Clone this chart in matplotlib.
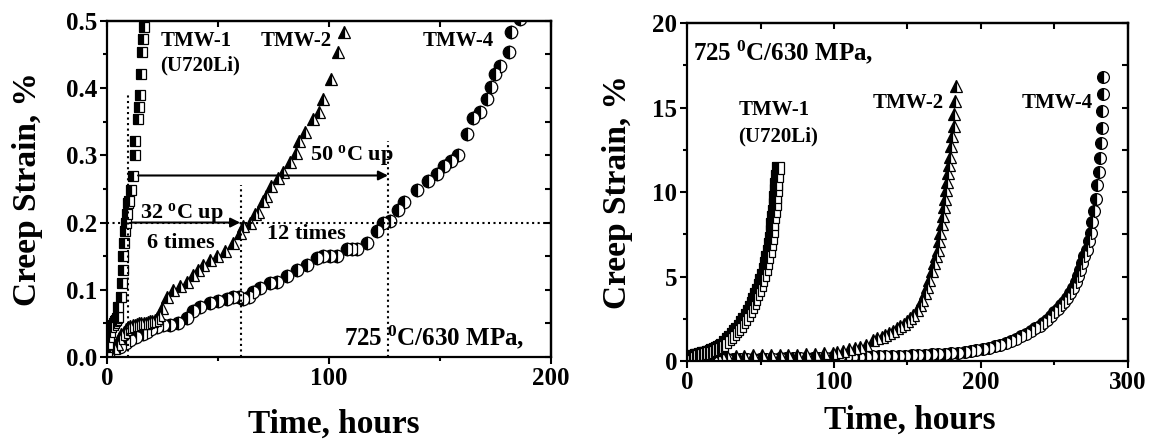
import matplotlib.pyplot as plt
from matplotlib.ticker import MultipleLocator, FormatStrFormatter, NullFormatter

# ---- left panel: creep strain (%) vs time (h), low strain range ----
tmw1_h = [0, 0.5, 1, 1.5, 2, 2.5, 3, 3.5, 4, 4.5, 5, 5.1, 6.2, 6.6, 7.1, 7.3, 7.8, 8.3, 8.6,
          9.0, 9.6, 9.9, 10.7, 11.9, 12.6, 12.8, 14.1, 14.6, 14.9, 15.2, 15.6, 16.4, 16.7]
tmw1_s = [0, 0.02, 0.03, 0.038, 0.045, 0.048, 0.05, 0.053, 0.055, 0.058, 0.06, 0.075, 0.09,
          0.11, 0.13, 0.15, 0.17, 0.187, 0.2, 0.212, 0.229, 0.232, 0.249, 0.269, 0.301,
          0.321, 0.354, 0.372, 0.389, 0.421, 0.454, 0.473, 0.491]

tmw2_h = [0, 1.4, 3, 4.4, 5.5, 6.5, 7.5, 8.5, 9.5, 10.5, 11.5, 12.5, 13.5, 14.5, 15.5, 16.5,
          17.5, 18.5, 19.5, 20.5, 21.5, 22.5, 23.5, 25, 26.9, 29.8, 32.8, 35.9, 38.9, 41.2,
          43.3, 46.4, 49.4, 53.2, 56.9, 59.9, 61.4, 64.4, 66.7, 68.0, 70.3, 71.5, 74.0, 77.0,
          79.4, 82.4, 85.0, 86.5, 89.2, 92.6, 95.6, 97.4, 101.0, 104.0, 107.0]
tmw2_s = [0, 0.006, 0.014, 0.02, 0.028, 0.034, 0.038, 0.041, 0.044, 0.046, 0.047, 0.048,
          0.049, 0.05, 0.05, 0.05, 0.051, 0.052, 0.053, 0.054, 0.055, 0.058, 0.063, 0.073,
          0.09, 0.1, 0.106, 0.112, 0.122, 0.13, 0.137, 0.145, 0.15, 0.157, 0.17, 0.185,
          0.195, 0.2, 0.212, 0.215, 0.232, 0.239, 0.254, 0.267, 0.275, 0.29, 0.304, 0.321,
          0.334, 0.354, 0.364, 0.384, 0.413, 0.454, 0.484]

tmw4_h = [0, 2.8, 5.9, 8.5, 10.4, 13, 16.3, 17.9, 20, 22.4, 25.4, 28.4, 32, 35.9, 38.9, 41.9,
          46.4, 50, 53.9, 56.9, 59.5, 61.4, 64, 66, 68.9, 73.4, 76.4, 80.9, 85.4, 89.9, 94.4,
          97.5, 100.5, 103.5, 108, 110.5, 112.5, 117, 121.5, 124.4, 127.5, 131, 134, 139.5,
          144.7, 148.5, 152, 155, 158, 162, 165, 168, 171, 173, 174.8, 177, 181, 182, 186]
tmw4_s = [0, 0.013, 0.015, 0.021, 0.025, 0.03, 0.035, 0.038, 0.042, 0.045, 0.048, 0.048,
          0.05, 0.058, 0.068, 0.075, 0.08, 0.084, 0.087, 0.089, 0.089, 0.087, 0.09, 0.097,
          0.102, 0.11, 0.112, 0.12, 0.13, 0.137, 0.147, 0.15, 0.15, 0.15, 0.16, 0.16, 0.16,
          0.17, 0.187, 0.2, 0.202, 0.219, 0.23, 0.249, 0.262, 0.272, 0.284, 0.291, 0.301,
          0.331, 0.356, 0.364, 0.384, 0.401, 0.421, 0.433, 0.453, 0.483, 0.503]

# time to reach 0.2 % and guide levels
t02 = [9.5, 60.5, 126.6]
guide_top = [0.392, 0.256, 0.321]
strain_ref = 0.2
arrow_32 = (11, 60)
arrow_50 = (14, 126.6)
arrow_50_level = 0.27

# ---- right panel: full creep curves ----
r1_h = [0, 1, 2, 3, 4, 5, 6, 7, 8, 9, 10, 11, 12, 13, 14, 15, 16, 17, 18, 19, 20, 21, 22,
        23, 24, 25.9, 27.5, 29.3, 31, 32.5, 34, 36, 37.5, 39, 40.6, 42, 43.3, 44.5, 45.7,
        47, 48.3, 49.5, 50.6, 51.7, 52.8, 53.8, 54.7, 55.5, 56.2, 56.9, 57.5, 58.1, 58.6,
        59.1, 59.6, 60.0, 60.4, 60.8, 61.2, 61.6]
r1_s = [0, 0.12, 0.2, 0.25, 0.28, 0.3, 0.33, 0.35, 0.38, 0.4, 0.43, 0.45, 0.48, 0.5, 0.53,
        0.56, 0.6, 0.63, 0.67, 0.7, 0.75, 0.8, 0.85, 0.9, 0.95, 1.14, 1.3, 1.44, 1.6, 1.75,
        1.9, 2.1, 2.3, 2.5, 2.72, 2.95, 3.2, 3.45, 3.7, 3.95, 4.2, 4.5, 4.8, 5.1, 5.45, 5.8,
        6.15, 6.5, 6.9, 7.3, 7.7, 8.1, 8.5, 8.9, 9.3, 9.7, 10.1, 10.5, 10.95, 11.4]

r2_h = [0, 3, 6, 9, 12, 15, 18, 21, 24, 27, 33, 39, 45, 51, 57, 63, 69, 75, 81, 87, 93, 99,
        102, 106, 110, 114, 118, 122, 126.6, 129.5, 132.4, 135, 137.5, 140, 142.7, 145,
        147.5, 150, 152, 154, 156.3, 158.3, 160, 161.9, 163.5, 165, 166.5, 168, 169.4,
        170.7, 171.6, 172.5, 173.3, 174.1, 174.9, 175.7, 176.5, 177.2, 177.9, 178.6, 179.3,
        180.0, 180.7, 181.4, 182.0, 182.6, 183.1]
r2_s = [0, 0.08, 0.13, 0.16, 0.2, 0.22, 0.24, 0.26, 0.28, 0.3, 0.3, 0.32, 0.33, 0.34, 0.35,
        0.36, 0.37, 0.38, 0.4, 0.42, 0.45, 0.5, 0.55, 0.62, 0.7, 0.78, 0.86, 0.95, 1.24, 1.34,
        1.44, 1.55, 1.65, 1.78, 1.93, 2.05, 2.2, 2.35, 2.53, 2.75, 3.0, 3.3, 3.6, 4.0, 4.4,
        4.8, 5.3, 5.8, 6.2, 6.6, 7.1, 7.6, 8.1, 8.6, 9.1, 9.6, 10.1, 10.6, 11.1, 11.6, 12.1,
        12.7, 13.3, 13.9, 14.6, 15.4, 16.3]

r4_h = [0, 4.5, 9, 13.5, 18, 22.5, 27, 31.5, 36, 40.5, 45, 49.5, 54, 58.5, 63, 67.5, 72,
        76.5, 81, 85.5, 90, 94.5, 99, 103.5, 108, 112.5, 117, 121.5, 126, 130.5, 135, 139.5,
        144, 148.5, 153, 157.5, 162, 166.5, 171, 175.5, 180, 184.5, 189, 193, 197, 201.5,
        205.5, 209.5, 213, 217, 220.5, 224, 227.5, 231, 234, 237, 240, 242.5, 245, 247.5,
        250, 252.5, 254.5, 256.5, 258.5, 260.5, 262.5, 264.5, 266, 267.5, 269, 270.5, 272,
        273.5, 274.8, 276, 277.2, 278.3, 279.4, 280.3, 281.2, 281.9, 282.4, 282.8, 283.1,
        283.3]
r4_s = [0, 0.03, 0.05, 0.07, 0.08, 0.09, 0.1, 0.11, 0.12, 0.12, 0.13, 0.14, 0.14, 0.15,
        0.16, 0.16, 0.17, 0.18, 0.18, 0.19, 0.2, 0.2, 0.21, 0.22, 0.23, 0.24, 0.25, 0.26,
        0.27, 0.28, 0.29, 0.3, 0.31, 0.32, 0.33, 0.35, 0.37, 0.39, 0.41, 0.44, 0.47, 0.5,
        0.54, 0.6, 0.66, 0.74, 0.8, 0.88, 0.96, 1.06, 1.18, 1.32, 1.46, 1.62, 1.78, 1.95,
        2.1, 2.25, 2.45, 2.65, 2.88, 3.1, 3.3, 3.5, 3.75, 4.0, 4.35, 4.7, 5.05, 5.4, 5.8,
        6.2, 6.6, 7.1, 7.6, 8.2, 8.9, 9.6, 10.4, 11.2, 12.0, 12.9, 13.8, 14.8, 15.8, 16.8]

plt.rcParams["font.family"] = "Liberation Serif"
plt.rcParams["font.weight"] = "bold"
plt.rcParams["axes.labelweight"] = "bold"
plt.rcParams["mathtext.fontset"] = "custom"
plt.rcParams["mathtext.rm"] = "Liberation Serif:bold"
plt.rcParams["mathtext.it"] = "Liberation Serif:bold"
plt.rcParams["mathtext.bf"] = "Liberation Serif:bold"

fig = plt.figure(figsize=(11.53, 4.43), dpi=100)
ax1 = fig.add_axes([0.0928, 0.194, 0.385, 0.759])
ax2 = fig.add_axes([0.596, 0.185, 0.382, 0.763])


def style(ax, xmaj, xmin, ymaj, ymin):
    for sp in ax.spines.values():
        sp.set_linewidth(1.6)
    ax.xaxis.set_major_locator(MultipleLocator(xmaj))
    ax.xaxis.set_minor_locator(MultipleLocator(xmin))
    ax.yaxis.set_major_locator(MultipleLocator(ymaj))
    ax.yaxis.set_minor_locator(MultipleLocator(ymin))
    ax.tick_params(which="major", direction="out", length=5, width=1.5,
                   labelsize=18, pad=2)
    ax.tick_params(which="minor", direction="out", length=3, width=1.5)
    top = ax.secondary_xaxis("top")
    top.xaxis.set_major_locator(MultipleLocator(xmin))
    top.xaxis.set_major_formatter(NullFormatter())
    top.tick_params(direction="in", length=4, width=1.5)
    top.spines["top"].set_linewidth(1.6)
    right = ax.secondary_yaxis("right")
    right.yaxis.set_major_locator(MultipleLocator(ymin))
    right.yaxis.set_major_formatter(NullFormatter())
    right.tick_params(direction="in", length=4, width=1.5)
    right.spines["right"].set_linewidth(1.6)


half = dict(fillstyle="left", markerfacecolor="black", markerfacecoloralt="white",
            markeredgecolor="black", markeredgewidth=0.9, linestyle="none")

# left panel
ax1.plot(tmw4_h, tmw4_s, marker="o", markersize=9, **half)
ax1.plot(tmw2_h, tmw2_s, marker="^", markersize=9, **half)
ax1.plot(tmw1_h, tmw1_s, marker="s", markersize=7.5, **half)

for t, top in zip(t02, guide_top):
    ax1.plot([t, t], [0, top], color="k", linestyle=":", linewidth=1.5)
ax1.plot([0, 200], [strain_ref, strain_ref], color="k", linestyle=":", linewidth=1.5)
ax1.annotate("", xy=(arrow_32[1], strain_ref), xytext=(arrow_32[0], strain_ref),
             arrowprops=dict(arrowstyle="-|>", color="k", lw=1.5, mutation_scale=14,
                             shrinkA=0, shrinkB=0))
ax1.annotate("", xy=(arrow_50[1], arrow_50_level), xytext=(arrow_50[0], arrow_50_level),
             arrowprops=dict(arrowstyle="-|>", color="k", lw=1.5, mutation_scale=14,
                             shrinkA=0, shrinkB=0))

ax1.text(24, 0.463, "TMW-1", fontsize=15)
ax1.text(24, 0.426, "(U720Li)", fontsize=15)
ax1.text(69, 0.463, "TMW-2", fontsize=15)
ax1.text(142, 0.463, "TMW-4", fontsize=15)
ax1.text(14.9, 0.207, r"32 $^{\mathrm{o}}$C up", fontsize=16)
ax1.text(17.9, 0.162, "6 times", fontsize=16)
ax1.text(72, 0.175, "12 times", fontsize=16)
ax1.text(91.4, 0.293, r"50 $^{\mathrm{o}}$C up", fontsize=16)
ax1.text(107, 0.017, r"725 $^{0}$C/630 MPa,", fontsize=18)

ax1.set_xlim(0, 200)
ax1.set_ylim(0, 0.5)
style(ax1, 100, 50, 0.1, 0.05)
ax1.yaxis.set_major_formatter(FormatStrFormatter("%.1f"))
ax1.set_xlabel("Time, hours", fontsize=24)
ax1.set_ylabel("Creep Strain, %", fontsize=24)
ax1.xaxis.set_label_coords(0.51, -0.155)
ax1.yaxis.set_label_coords(-0.145, 0.5)

# right panel
ax2.plot(r4_h, r4_s, marker="o", markersize=8.5, **half)
ax2.plot(r2_h, r2_s, marker="^", markersize=9, **half)
ax2.plot(r1_h, r1_s, marker="s", markersize=8, **half)

ax2.text(4, 17.8, r"725 $^{0}$C/630 MPa,", fontsize=18)
ax2.text(34.9, 14.56, "TMW-1", fontsize=15)
ax2.text(34.9, 12.98, "(U720Li)", fontsize=15)
ax2.text(126.5, 14.95, "TMW-2", fontsize=15)
ax2.text(227.7, 14.95, "TMW-4", fontsize=15)

ax2.set_xlim(0, 300)
ax2.set_ylim(0, 20)
style(ax2, 100, 50, 5, 2.5)
ax2.set_xlabel("Time, hours", fontsize=24)
ax2.set_ylabel("Creep Strain, %", fontsize=24)
ax2.xaxis.set_label_coords(0.505, -0.13)
ax2.yaxis.set_label_coords(-0.122, 0.5)

fig.savefig("out.png", dpi=100)
